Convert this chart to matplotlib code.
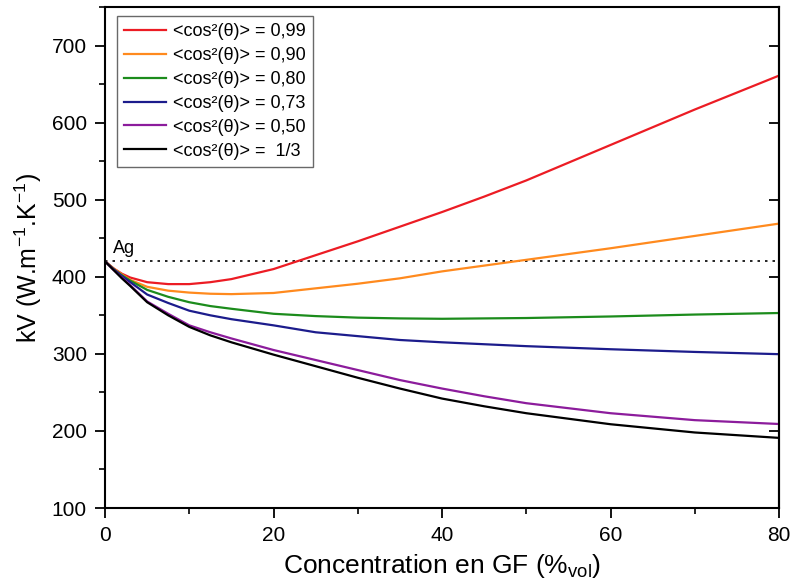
import numpy as np
import matplotlib
matplotlib.use("Agg")
import matplotlib.pyplot as plt
from matplotlib.ticker import MultipleLocator

plt.rcParams['font.family'] = ['Liberation Sans', 'DejaVu Sans']
plt.rcParams['mathtext.default'] = 'regular'

# concentration (%vol)
conc = [0, 1, 2, 3, 5, 7.5, 10, 12.5, 15, 20, 25, 30, 35, 40, 45, 50, 60, 70, 80]

# kV values
kv_099 = [420, 411, 404, 399, 393, 390.5, 390.5, 393, 397, 410, 428, 446, 465, 484, 504, 525, 571, 617, 661]
kv_090 = [420, 411, 403, 396, 387, 382, 379.5, 378, 377.5, 379, 385, 391, 398, 407, 414.5, 422, 437, 453, 469]
kv_080 = [420, 410, 402, 395, 383, 374, 367, 362, 358.5, 352, 349, 347, 346, 345.5, 346, 346.5, 348.5, 351, 353]
kv_073 = [420, 410, 401, 393, 377, 366, 356, 350, 345, 337, 328, 323, 318, 315, 312.5, 310, 306, 302.5, 299.6]
kv_050 = [420, 409, 399, 389, 368, 352, 337, 328, 320, 305, 292, 279, 266, 255, 245, 236, 223, 214, 209]
kv_033 = [420, 409, 398, 388, 367, 350, 335, 324, 315, 299, 284, 269, 255, 242, 232, 223, 208.7, 198, 191]

labels = ['<cos²(θ)> = 0,99', '<cos²(θ)> = 0,90', '<cos²(θ)> = 0,80',
          '<cos²(θ)> = 0,73', '<cos²(θ)> = 0,50', '<cos²(θ)> =  1/3']
colors = ['#ec1c24', '#ff8a1e', '#1c8c1c', '#1c1c8c', '#8c1c9c', '#000000']
series = [kv_099, kv_090, kv_080, kv_073, kv_050, kv_033]

kv_ag = 420

fig = plt.figure(figsize=(7.92, 5.85), dpi=100)
ax = fig.add_axes([0.1326, 0.1316, 0.8510, 0.8564])

ax.plot([0, 80], [kv_ag, kv_ag], color='black', linestyle=(0, (1.5, 3)), lw=1.2)
ax.text(1.0, 431, 'Ag', fontsize=13)

for y, c, lab in zip(series, colors, labels):
    ax.plot(conc, y, color=c, lw=1.6, label=lab)

ax.set_xlim(0, 80)
ax.set_ylim(100, 750)
ax.set_yticks([100, 200, 300, 400, 500, 600, 700])
ax.set_xticks([0, 20, 40, 60, 80])
ax.xaxis.set_minor_locator(MultipleLocator(10))
ax.yaxis.set_minor_locator(MultipleLocator(50))

ax.tick_params(which='major', direction='out', length=7, width=1.3, labelsize=15, pad=6)
ax.tick_params(which='minor', direction='out', length=4, width=1.2)

for s in ax.spines.values():
    s.set_linewidth(1.5)

# right axis ticks pointing inward, no labels
sec = ax.secondary_yaxis('right')
sec.set_yticks([100, 200, 300, 400, 500, 600, 700])
sec.tick_params(direction='in', length=7, width=1.3, labelright=False)
sec.spines['right'].set_linewidth(1.5)

ax.set_xlabel('Concentration en GF (%$_{vol}$)', fontsize=19, labelpad=5)
ax.set_ylabel('kV (W.m$^{-1}$.K$^{-1}$)', fontsize=18, labelpad=6)

leg = ax.legend(loc='upper left', bbox_to_anchor=(0.018, 0.982), borderaxespad=0,
                fontsize=13, frameon=True, fancybox=False, handlelength=2.3,
                borderpad=0.4, labelspacing=0.38, handletextpad=0.4)
leg.get_frame().set_edgecolor('#444444')
leg.get_frame().set_linewidth(1.0)

fig.savefig('out.png', dpi=100)
